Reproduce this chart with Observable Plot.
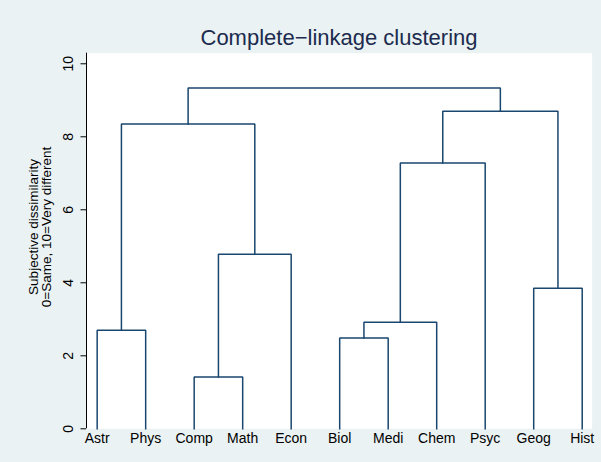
<!DOCTYPE html>
<html>
<head>
<meta charset="utf-8">
<script src="https://cdn.jsdelivr.net/npm/d3@7"></script>
<script src="https://cdn.jsdelivr.net/npm/@observablehq/plot@0.6"></script>
<style>
  html, body { margin: 0; padding: 0; background: #eaf2f3; }
  #wrap { position: relative; width: 601px; height: 462px; background: #eaf2f3; font-family: "Liberation Sans", Arial, sans-serif; }
  #title { position: absolute; left: 86px; width: 506px; top: 27px; text-align: center; font-size: 22px; line-height: 22px; color: #1c2b4e; white-space: nowrap; }
  #chart { position: absolute; left: 0; top: 52px; }
</style>
</head>
<body>
<div id="wrap">
  <div id="title">Complete−linkage clustering</div>
  <div id="chart"></div>
</div>
<script>
// Leaves (in dendrogram order)
const leaves = ["Astr", "Phys", "Comp", "Math", "Econ", "Biol", "Medi", "Chem", "Psyc", "Geog", "Hist"];
// Merges: ids 0..10 are leaves, each merge k creates id 11+k
const mergeA = [2, 5, 0, 12, 9, 11, 14, 13, 17, 18];
const mergeB = [3, 6, 1, 7, 10, 4, 8, 16, 15, 19];
const mergeHeight = [1.42, 2.49, 2.70, 2.92, 3.85, 4.78, 7.28, 8.35, 8.70, 9.34];
const yTicks = [0, 2, 4, 6, 8, 10];
const yTitle = "Subjective dissimilarity\n0=Same, 10=Very different";

// Build node positions and the branch paths
const nodeX = leaves.map((d, i) => i);
const nodeY = leaves.map(() => 0);
const paths = [];
mergeA.forEach((a, k) => {
  const b = mergeB[k], h = mergeHeight[k];
  paths.push({m: k, x: nodeX[a], y: nodeY[a]});
  paths.push({m: k, x: nodeX[a], y: h});
  paths.push({m: k, x: nodeX[b], y: h});
  paths.push({m: k, x: nodeX[b], y: nodeY[b]});
  nodeX.push((nodeX[a] + nodeX[b]) / 2);
  nodeY.push(h);
});

const font = "Liberation Sans, Arial, sans-serif";
const xMin = -0.22, xMax = 10.206;

const plot = Plot.plot({
  width: 601,
  height: 410,
  marginLeft: 86,
  marginRight: 9.3,
  marginTop: 0.7,
  marginBottom: 33.7,
  style: {fontFamily: font, fontSize: "14px", color: "#000", background: "transparent"},
  x: {domain: [xMin, xMax]},
  y: {domain: [0, 10.29]},
  marks: [
    Plot.frame({fill: "white", stroke: null}),
    Plot.axisX(leaves.map((d, i) => i), {tickSize: 0, tickPadding: 4.5, tickFormat: i => leaves[i], fontSize: 14, label: null}),
    Plot.axisY(yTicks, {tickSize: 5.5, tickPadding: 8, tickRotate: -90, fontSize: 14, label: null, stroke: "#000"}),
    Plot.ruleX([xMin], {stroke: "#000", strokeWidth: 1}),
    Plot.text([yTitle], {frameAnchor: "left", dx: -46, dy: -14, rotate: -90, fontSize: 13.5, lineHeight: 0.98, textAnchor: "middle", lineAnchor: "middle", fill: "#000"}),
    Plot.line(paths, {x: "x", y: "y", z: "m", stroke: "#1a476f", strokeWidth: 1.5, strokeLinejoin: "miter", strokeLinecap: "square", curve: "linear"})
  ]
});
document.getElementById("chart").appendChild(plot);
</script>
</body>
</html>
